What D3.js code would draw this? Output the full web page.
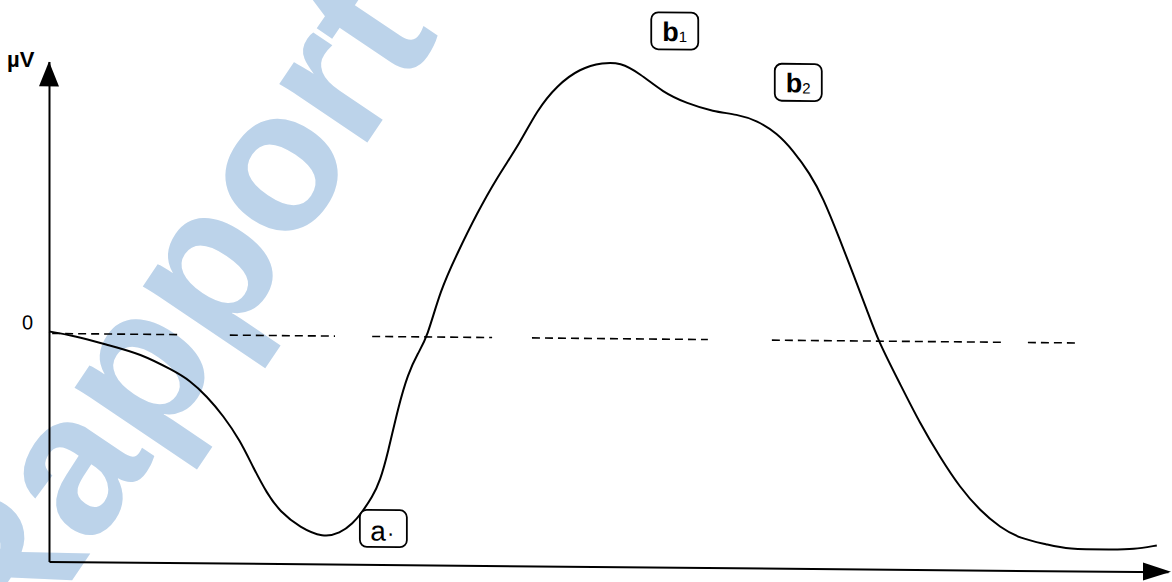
<!DOCTYPE html>
<html lang="fr">
<head>
  <meta charset="UTF-8">
  <title>ERG</title>
  <style>
  * { margin: 0; padding: 0; }
  body { background: #fff; }
  svg { display: block; font-family: "Liberation Sans", Arial, sans-serif; }
  </style>
  <script src="https://cdn.jsdelivr.net/npm/d3@7"></script>
</head>
<body>
<svg width="1172" height="582" id="svg1"></svg>
<script>
// temps (ms) et amplitude (µV)
const timeMs = [0, 5.4, 13.6, 20.3, 27.7, 31.5, 35.3, 38.9, 42.7, 45.6, 48.7, 51.6, 56.1, 61.2, 65.0, 67.9, 69.9,
  72.2, 74.0, 75.7, 78.0, 80.2, 82.4, 84.5, 87.4, 91.2, 95.6, 100.1, 105.2, 109.0, 113.5, 118.6, 123.8, 127.6,
  132.0, 137.2, 142.5, 148.4, 153.7, 158.2, 162.7, 166.2, 170.0, 172.9, 176.7, 179.6, 182.8, 185.2, 190.1,
  194.6, 199.1, 203.5, 208.0, 212.5, 216.9, 223.0, 227.4, 237.7, 242.2, 247.5];
const microvolts = [0.8, -0.7, -4.6, -7.7, -14.3, -18.3, -24.6, -32.2, -42.1, -52.8, -63.2, -70.4, -76.7, -80.6, -78.9, -74.9, -70.4,
  -64.4, -57.6, -46.7, -28.3, -14.7, -6.6, -0.2, 18.6, 33.5, 49.6, 64.1, 77.8, 91.0, 101.1, 108.0, 110.4, 110.5,
  106.2, 98.7, 94.4, 91.2, 90.2, 87.8, 82.7, 76.0, 66.8, 57.3, 40.5, 27.0, 12.2, 0.3, -16.9,
  -32.8, -46.3, -58.2, -67.4, -74.1, -78.4, -80.7, -82.6, -82.5, -82.4, -80.7];

// ligne du zéro (morceaux pointillés)
const zeroStart = [0.7, 40.4, 72.2, 107.9, 161.5, 218.7];
const zeroEnd = [28.8, 63.9, 99.0, 147.2, 213.6, 229.9];

// ondes repérées
const waveNames = ["b", "b", "a"];
const waveSubs = ["1", "2", "·"];
const waveT = [139.8, 167.4, 74.7];
const waveV = [123.3, 103.2, -76.8];

const svg = d3.select("#svg1");

const x = d3.scaleLinear().domain([0, 250]).range([49, 1168]);
const y = d3.scaleLinear().domain([-91.2, 108.8]).range([561, 61]);

// filigrane
svg.append("text")
  .attr("transform", "translate(226,352) rotate(-56)")
  .attr("text-anchor", "middle")
  .attr("font-family", "Liberation Sans")
  .attr("font-weight", "bold")
  .attr("font-size", 200)
  .attr("fill", "#bcd3ea")
  .text("Rapport");

// le scan est légèrement penché
const g = svg.append("g").attr("transform", "skewY(0.53)");

// axe vertical
const yAxis = g.append("g")
  .attr("transform", `translate(${x(0)},0)`)
  .call(d3.axisLeft(y).tickValues([0]).tickSize(0).tickSizeOuter(0).tickPadding(16));
yAxis.select(".domain").attr("stroke", "#000").attr("stroke-width", 2);
yAxis.selectAll("text").attr("font-size", 20).attr("fill", "#000").attr("dy", "-0.22em")
  .attr("font-family", "Liberation Sans");

// axe horizontal
const xAxis = g.append("g")
  .attr("transform", `translate(0,${y(-91.2)})`)
  .call(d3.axisBottom(x).tickValues([]).tickSizeOuter(0));
xAxis.select(".domain").attr("stroke", "#000").attr("stroke-width", 2);

// flèches
g.append("path")
  .attr("d", `M${x(0)},${y(108.8)}L${x(0) - 10},${y(108.8) + 25}L${x(0) + 10},${y(108.8) + 25}Z`)
  .attr("fill", "#000");
g.append("path")
  .attr("d", `M${x(250) + 3},${y(-91.2)}L${x(250) - 25},${y(-91.2) - 9}L${x(250) - 25},${y(-91.2) + 9}Z`)
  .attr("fill", "#000");

svg.append("text")
  .attr("x", x(0) - 42).attr("y", y(108.8) + 6)
  .attr("font-size", 22).attr("font-weight", "bold")
  .text("µV");

// zéro pointillé
g.append("g").selectAll("line").data(zeroStart).enter()
  .append("line")
  .attr("x1", d => x(d))
  .attr("x2", (d, i) => x(zeroEnd[i]))
  .attr("y1", y(0)).attr("y2", y(0))
  .attr("stroke", "#000")
  .attr("stroke-width", 1.6)
  .attr("stroke-dasharray", "8,5");

// courbe
const line = d3.line()
  .x((d, i) => x(timeMs[i]))
  .y(d => y(d))
  .curve(d3.curveBasis);

g.append("path")
  .datum(microvolts)
  .attr("d", line)
  .attr("fill", "none")
  .attr("stroke", "#000")
  .attr("stroke-width", 2);

// étiquettes encadrées
const tag = g.append("g").selectAll("g").data(waveNames).enter()
  .append("g")
  .attr("transform", (d, i) => `translate(${x(waveT[i])},${y(waveV[i])})`);

tag.append("rect")
  .attr("x", -23.5).attr("y", -18.5)
  .attr("width", 47).attr("height", 37)
  .attr("rx", 7)
  .attr("fill", "#fff")
  .attr("stroke", "#000")
  .attr("stroke-width", 1.8);

const lab = tag.append("text")
  .attr("text-anchor", (d, i) => i == 2 ? "start" : "middle")
  .attr("x", (d, i) => i == 2 ? -13 : 0)
  .attr("y", (d, i) => i == 2 ? 12 : 10);
lab.append("tspan")
  .attr("font-size", (d, i) => i == 2 ? 28 : 27)
  .attr("font-weight", (d, i) => i == 2 ? "normal" : "bold")
  .text(d => d);
lab.append("tspan")
  .attr("font-size", (d, i) => i == 2 ? 22 : 15)
  .attr("dx", (d, i) => i == 2 ? 1 : 0)
  .attr("dy", (d, i) => i == 2 ? 0 : 1)
  .text((d, i) => waveSubs[i]);
</script>
</body>
</html>
